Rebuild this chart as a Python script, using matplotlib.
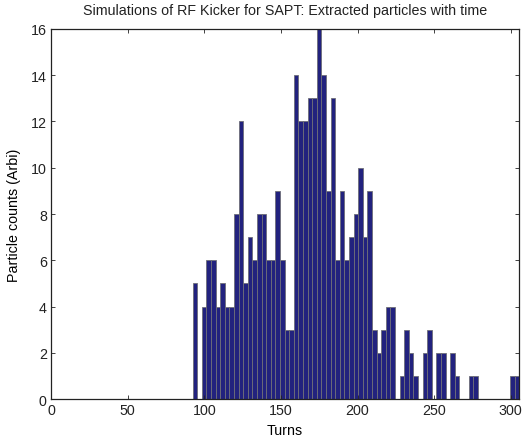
import numpy as np
import matplotlib
matplotlib.use("Agg")
import matplotlib.pyplot as plt

# histogram of extracted particles, bins of 3 turns starting near turn 94
bin_start = 93.9
bin_width = 3.0
counts = [5, 0, 4, 6, 6, 4, 5, 4, 4, 8,
          12, 5, 7, 6, 8, 8, 6, 6, 9, 6,
          3, 3, 14, 12, 12, 13, 13, 16, 14, 9,
          13, 6, 9, 6, 7, 8, 10, 7, 9, 3,
          2, 3, 4, 4, 0, 1, 3, 2, 1, 0,
          2, 3, 0, 2, 2, 0, 2, 1, 0, 0,
          1, 1, 0, 0, 0, 0, 0, 0, 0, 1,
          1]
turns = bin_start + bin_width * np.arange(len(counts))

plt.rcParams['font.family'] = ['Liberation Sans', 'DejaVu Sans']
plt.rcParams['text.color'] = '#222222'
plt.rcParams['xtick.color'] = '#222222'
plt.rcParams['ytick.color'] = '#222222'

fig = plt.figure(figsize=(5.22, 4.39), dpi=100)
ax = fig.add_axes([0.0977, 0.0888, 0.8956, 0.8429])

ax.bar(turns, counts, width=bin_width, color='#22227e',
       edgecolor='#6e6e78', linewidth=0.6)

ax.set_xlim(0, 305)
ax.set_ylim(0, 16)
ax.set_xticks(np.arange(0, 301, 50))
ax.set_yticks(np.arange(0, 17, 2))
ax.tick_params(direction='in', top=True, right=True, labelsize=10.3,
               length=3, width=0.6, pad=3)
for s in ax.spines.values():
    s.set_linewidth(0.9)
    s.set_color('#222222')

ax.set_xlabel('Turns', fontsize=10.3, labelpad=4)
ax.set_ylabel('Particle counts (Arbi)', fontsize=10.3, labelpad=7)
ax.set_title('Simulations of RF Kicker for SAPT: Extracted particles with time',
             fontsize=10.3, pad=11)

fig.savefig('out.png', dpi=100)
